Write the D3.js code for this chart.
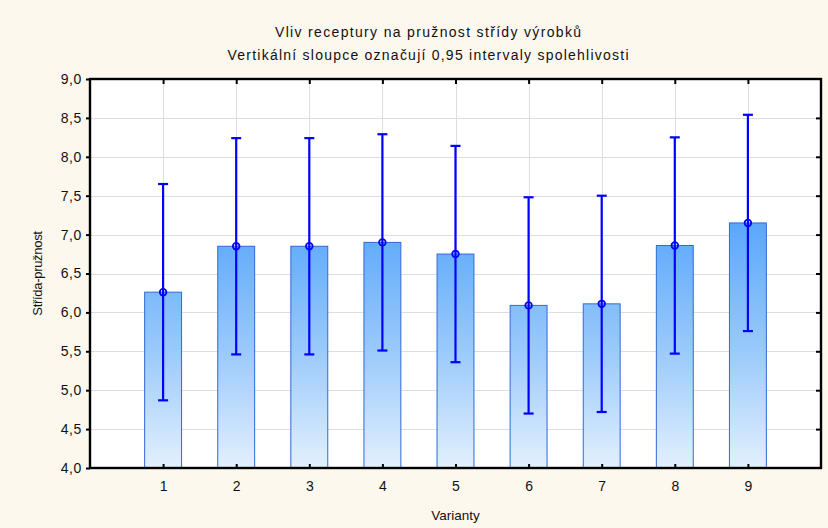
<!DOCTYPE html>
<html>
<head>
<meta charset="utf-8">
<script src="https://cdn.jsdelivr.net/npm/d3@7/dist/d3.min.js"></script>
<style>
  html, body { margin: 0; padding: 0; background: #fdf8ed; }
  svg { display: block; }
  text { font-family: "Liberation Sans", Arial, sans-serif; fill: #111; }
</style>
</head>
<body>
<svg id="chart" width="828" height="528"></svg>
<script>
// Means and 0.95 confidence limits per recipe variant
const categories = ["1", "2", "3", "4", "5", "6", "7", "8", "9"];
const means = [6.26, 6.85, 6.85, 6.90, 6.75, 6.09, 6.11, 6.86, 7.15];
const upper = [7.65, 8.24, 8.24, 8.29, 8.14, 7.48, 7.50, 8.25, 8.54];
const lower = [4.87, 5.46, 5.46, 5.51, 5.36, 4.70, 4.72, 5.47, 5.76];
const yTicks = [4.0, 4.5, 5.0, 5.5, 6.0, 6.5, 7.0, 7.5, 8.0, 8.5, 9.0];

const title = "Vliv receptury na pružnost střídy výrobků";
const subtitle = "Vertikální sloupce označují 0,95 intervaly spolehlivosti";
const xLabel = "Varianty";
const yLabel = "Střída-pružnost";

const svg = d3.select("#chart");
const plot = { left: 90, right: 821, top: 79, bottom: 468 };

// Category positions: one slot of padding on each side
const x = d3.scaleLinear().domain([0, categories.length + 1]).range([plot.left, plot.right]);
const y = d3.scaleLinear().domain([4, 9]).range([plot.bottom, plot.top]);
const slot = x(1) - x(0);
const barW = slot * 0.505;
const fmt = v => d3.format(".1f")(v).replace(".", ",");

// Bar gradient
const defs = svg.append("defs");
const grad = defs.append("linearGradient")
  .attr("id", "barGrad")
  .attr("gradientUnits", "userSpaceOnUse")
  .attr("x1", 0).attr("x2", 0)
  .attr("y1", y(7.2)).attr("y2", y(4));
grad.append("stop").attr("offset", "0%").attr("stop-color", "#58a6fb");
grad.append("stop").attr("offset", "55%").attr("stop-color", "#9dcbfb");
grad.append("stop").attr("offset", "100%").attr("stop-color", "#e3f0fe");

// Plot background
svg.append("rect")
  .attr("x", plot.left).attr("y", plot.top)
  .attr("width", plot.right - plot.left).attr("height", plot.bottom - plot.top)
  .attr("fill", "#ffffff");

// Grid lines
const grid = svg.append("g").attr("stroke", "#dedede").attr("stroke-width", 1);
grid.selectAll("line.h").data(yTicks.slice(1, -1)).join("line")
  .attr("x1", plot.left).attr("x2", plot.right)
  .attr("y1", d => Math.round(y(d)) + 0.5).attr("y2", d => Math.round(y(d)) + 0.5);
grid.selectAll("line.v").data(categories).join("line")
  .attr("x1", (d, i) => Math.round(x(i + 1)) + 0.5).attr("x2", (d, i) => Math.round(x(i + 1)) + 0.5)
  .attr("y1", plot.top).attr("y2", plot.bottom);

// Bars
svg.append("g").selectAll("rect").data(means).join("rect")
  .attr("x", (d, i) => x(i + 1) - barW / 2)
  .attr("y", d => y(d))
  .attr("width", barW)
  .attr("height", d => y(4) - y(d))
  .attr("fill", "url(#barGrad)")
  .attr("stroke", "#2f6ad6")
  .attr("stroke-width", 1);

// Confidence interval whiskers
const eb = svg.append("g").attr("stroke", "#0000ff").attr("stroke-width", 2.2).attr("fill", "none");
categories.forEach((c, i) => {
  const cx = x(i + 1);
  eb.append("line").attr("x1", cx).attr("x2", cx).attr("y1", y(upper[i])).attr("y2", y(lower[i]));
  eb.append("line").attr("x1", cx - 5).attr("x2", cx + 5).attr("y1", y(upper[i])).attr("y2", y(upper[i]));
  eb.append("line").attr("x1", cx - 5).attr("x2", cx + 5).attr("y1", y(lower[i])).attr("y2", y(lower[i]));
  eb.append("circle").attr("cx", cx).attr("cy", y(means[i])).attr("r", 3.3).attr("stroke-width", 1.8);
});

// Axes: ticks outward on the left, inward on the other three sides
const tickStyle = g => g.call(s => s.select(".domain").remove())
  .selectAll(".tick line").attr("stroke", "#000").attr("stroke-width", 2);
const labelStyle = g => g.selectAll("text")
  .attr("font-size", 14).attr("letter-spacing", 0.6)
  .attr("font-family", "Liberation Sans, Arial, sans-serif").attr("fill", "#111");

svg.append("g").attr("transform", `translate(${plot.left},0)`)
  .call(d3.axisLeft(y).tickValues(yTicks).tickFormat(fmt).tickSize(4).tickPadding(4))
  .call(tickStyle)
  .call(labelStyle);

svg.append("g").attr("transform", `translate(${plot.right},0)`)
  .call(d3.axisLeft(y).tickValues(yTicks.slice(1, -1)).tickFormat("").tickSize(4))
  .call(g => g.selectAll(".tick line").attr("x2", -5).attr("x1", 0))
  .call(tickStyle);

const xTickVals = categories.map((c, i) => i + 1);
svg.append("g").attr("transform", `translate(0,${plot.bottom})`)
  .call(d3.axisBottom(x).tickValues(xTickVals).tickFormat((d, i) => categories[i]).tickSize(0).tickPadding(13))
  .call(g => g.selectAll(".tick line").attr("y2", -4))
  .call(tickStyle)
  .call(labelStyle)
  .call(g => g.selectAll("text").attr("letter-spacing", 0));

svg.append("g").attr("transform", `translate(0,${plot.top})`)
  .call(d3.axisTop(x).tickValues(xTickVals).tickFormat("").tickSize(0))
  .call(g => g.selectAll(".tick line").attr("y2", 5))
  .call(tickStyle);

// Frame
svg.append("rect")
  .attr("x", plot.left).attr("y", plot.top)
  .attr("width", plot.right - plot.left).attr("height", plot.bottom - plot.top)
  .attr("fill", "none").attr("stroke", "#000").attr("stroke-width", 2.4);

// Titles
const titleX = 428;
svg.append("text").attr("x", titleX).attr("y", 37).attr("text-anchor", "middle")
  .attr("font-size", 14).attr("textLength", 306).attr("lengthAdjust", "spacing").text(title);
svg.append("text").attr("x", titleX).attr("y", 60).attr("text-anchor", "middle")
  .attr("font-size", 14).attr("textLength", 401).attr("lengthAdjust", "spacing").text(subtitle);

const midX = (plot.left + plot.right) / 2;
svg.append("text").attr("x", midX).attr("y", 520).attr("text-anchor", "middle")
  .attr("font-size", 13.5).text(xLabel);
svg.append("text")
  .attr("transform", `translate(42,${(plot.top + plot.bottom) / 2}) rotate(-90)`)
  .attr("text-anchor", "middle").attr("font-size", 13).attr("letter-spacing", -0.3).text(yLabel);
</script>
</body>
</html>
